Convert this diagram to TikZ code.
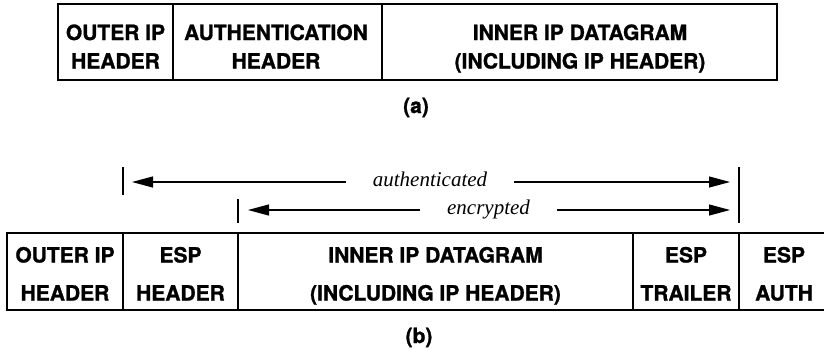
\documentclass[tikz,border=0pt]{standalone}
\usepackage{fontspec}
\newfontfamily\hv{TeX Gyre Heros}[BoldFeatures={FakeBold=1.2}]
\newfontfamily\tm{Liberation Serif}
\usetikzlibrary{arrows.meta}
\begin{document}
\begin{tikzpicture}[x=1pt,y=-1pt,
  cell/.style={draw, line width=1.7pt, inner sep=0pt, outer sep=0pt},
  lab/.style={font=\hv\bfseries\fontsize{21}{21}\selectfont, anchor=base, inner sep=0pt},
  note/.style={font=\tm\itshape\fontsize{21}{21}\selectfont, anchor=base, inner xsep=27pt, inner ysep=0pt},
  tickline/.style={line width=1.4pt},
  arr/.style={line width=1.1pt, -{Triangle[length=21pt,width=11pt]}}]
\useasboundingbox (0,0) rectangle (824,349);
\clip (0,0) rectangle (824,349);
% (a)
\node[cell, minimum width=115pt, minimum height=76pt] (a1) at (115.5,42) {};
\node[cell, minimum width=209pt, minimum height=76pt] (a2) at (277.5,42) {};
\node[cell, minimum width=395pt, minimum height=76pt] (a3) at (579.5,42) {};
\node[lab] (a1x) at (115.5,40) {OUTER IP};
\node[lab] (a1y) at (115.5,68.5) {HEADER};
\node[lab] (a2x) at (276,40) {AUTHENTICATION};
\node[lab] (a2y) at (276,68.5) {HEADER};
\node[lab] (a3x) at (580,40) {INNER IP DATAGRAM};
\node[lab] (a3y) at (580,68.5) {(INCLUDING IP HEADER)};
\node[lab] (la) at (416,113) {(a)};
% (b)
\node[cell, minimum width=116pt, minimum height=77pt] (b1) at (65,271.5) {};
\node[cell, minimum width=115pt, minimum height=77pt] (b2) at (180.5,271.5) {};
\node[cell, minimum width=395pt, minimum height=77pt] (b3) at (435.5,271.5) {};
\node[cell, minimum width=106pt, minimum height=77pt] (b4) at (686,271.5) {};
\node[cell, minimum width=91pt, minimum height=77pt] (b5) at (784.5,271.5) {};
\node[lab] (b1x) at (65,262.5) {OUTER IP};
\node[lab] (b1y) at (65,300.5) {HEADER};
\node[lab] (b2x) at (180.5,262.5) {ESP};
\node[lab] (b2y) at (180.5,300.5) {HEADER};
\node[lab] (b3x) at (435.5,262.5) {INNER IP DATAGRAM};
\node[lab] (b3y) at (435.5,300.5) {(INCLUDING IP HEADER)};
\node[lab] (b4x) at (686,262.5) {ESP};
\node[lab] (b4y) at (686,300.5) {TRAILER};
\node[lab] (b5x) at (784,262.5) {ESP};
\node[lab] (b5y) at (784,300.5) {AUTH};
\node[lab] (lb) at (419,343) {(b)};
% ranges
\coordinate (authL) at (132,182);
\coordinate (authR) at (730,182);
\coordinate (encL) at (248,210);
\coordinate (encR) at (730,210);
\node[note] (auth) at (430,186.5) {authenticated};
\node[note] (enc) at (488.5,214) {encrypted};
\draw[arr] (auth.west |- authL) -- (authL);
\draw[arr] (auth.east |- authR) -- (authR);
\draw[arr] (enc.west |- encL) -- (encL);
\draw[arr] (enc.east |- encR) -- (encR);
\draw[tickline] (123,167) -- (123,195);
\draw[tickline] (238,199) -- (238,223);
\draw[tickline] (739,167) -- (739,223);
\end{tikzpicture}
\end{document}
